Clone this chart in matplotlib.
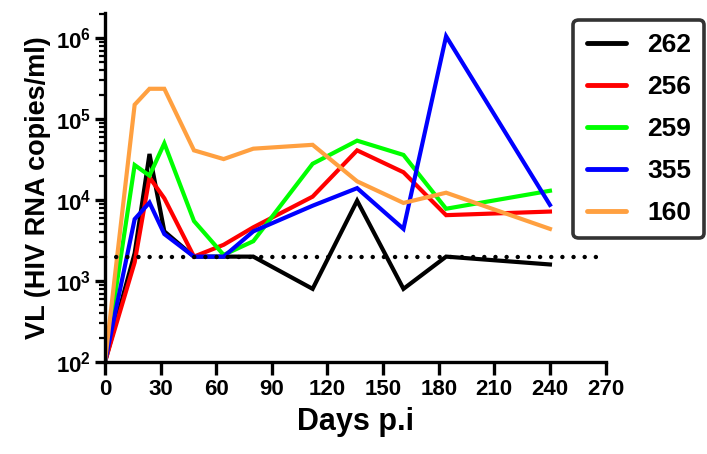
import numpy as np
import matplotlib.pyplot as plt
from matplotlib.ticker import FixedLocator, FixedFormatter, LogLocator, NullFormatter

plt.rcParams['font.family'] = ['Liberation Sans', 'DejaVu Sans']
plt.rcParams['font.weight'] = 'bold'
plt.rcParams['mathtext.fontset'] = 'custom'
plt.rcParams['mathtext.rm'] = 'Liberation Sans:bold'
plt.rcParams['mathtext.bf'] = 'Liberation Sans:bold'
plt.rcParams['mathtext.it'] = 'Liberation Sans:bold'

# sampling days
days = [0, 16, 24, 32, 48, 64, 80, 112, 136, 161, 184, 240]

# viral load per animal
vl_262 = [100, 2200, 37000, 4100, 2000, 2000, 2000, 800, 9800, 800, 2000, 1600]
vl_256 = [100, 1700, 19000, 10500, 2000, 2800, 4600, 11000, 41000, 22000, 6500, 7200]
vl_259 = [100, 27000, 20000, 50000, 5500, 2100, 3100, 28000, 54000, 36000, 7800, 13000]
vl_355 = [100, 5800, 9300, 3800, 2000, 2000, 4100, 8500, 14000, 4400, 1050000, 8700]
vl_160 = [100, 150000, 236000, 236000, 41000, 32000, 43000, 48000, 17000, 9200, 12300, 4400]

series = [('262', vl_262, 'black'), ('256', vl_256, '#ff0000'),
          ('259', vl_259, '#00ff00'), ('355', vl_355, '#0000ff'),
          ('160', vl_160, '#ffa040')]

threshold = 2000

fig = plt.figure(figsize=(7.07, 4.54), dpi=100)
ax = fig.add_axes([0.1485, 0.2026, 0.708, 0.769])

for name, vals, col in series:
    ax.plot(days, vals, color=col, lw=3.0, label=name, solid_joinstyle='miter')

ax.plot([0, 270], [threshold, threshold], color='black', lw=3.2,
        linestyle=(0, (0.01, 2.5)), dash_capstyle='round')

ax.set_yscale('log')
ax.set_ylim(100, 2.04e6)
ax.set_xlim(0, 270)
ax.xaxis.set_major_locator(FixedLocator(np.arange(0, 271, 30)))
ax.yaxis.set_major_locator(FixedLocator([1e2, 1e3, 1e4, 1e5, 1e6]))
ax.yaxis.set_major_formatter(FixedFormatter([r'$10^{2}$', r'$10^{3}$', r'$10^{4}$',
                                             r'$10^{5}$', r'$10^{6}$']))
ax.yaxis.set_minor_locator(LogLocator(base=10, subs=np.arange(2, 10), numticks=20))
ax.yaxis.set_minor_formatter(NullFormatter())

for s in ['top', 'right']:
    ax.spines[s].set_visible(False)
for s in ['left', 'bottom']:
    ax.spines[s].set_linewidth(2.4)

ax.tick_params(axis='both', which='major', width=2.4, length=7, labelsize=16, pad=3)
ax.tick_params(axis='y', which='minor', width=1.6, length=4.5)
ax.tick_params(axis='x', which='major', length=9)

ax.set_xlabel('Days p.i', fontsize=22, fontweight='bold', labelpad=5)
ax.set_ylabel('VL (HIV RNA copies/ml)', fontsize=19.5, fontweight='bold', labelpad=3)

leg = fig.legend(loc='upper left', bbox_to_anchor=(0.811, 0.956), fontsize=19,
                 handlelength=1.5, handletextpad=0.8, labelspacing=0.68,
                 borderpad=0.5, borderaxespad=0, fancybox=True, frameon=True)
leg.get_frame().set_edgecolor('black')
leg.get_frame().set_linewidth(2.6)
for line in leg.get_lines():
    line.set_linewidth(3.5)
    line.set_solid_capstyle('round')

fig.savefig('out.png', dpi=100)
